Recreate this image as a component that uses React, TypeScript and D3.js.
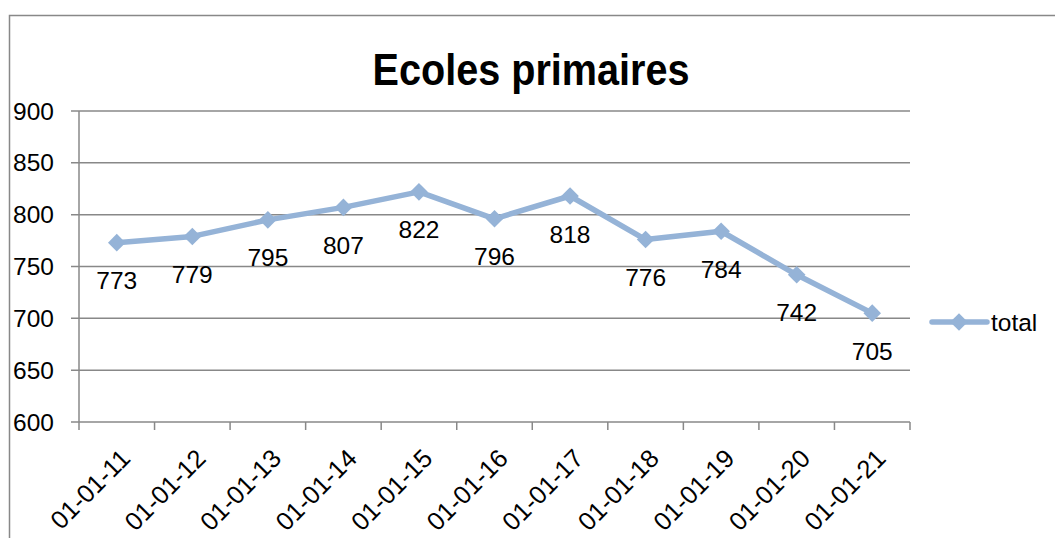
import React from 'react';
import * as d3 from 'd3';

// chart values
const categories = ['01-01-11', '01-01-12', '01-01-13', '01-01-14', '01-01-15', '01-01-16',
  '01-01-17', '01-01-18', '01-01-19', '01-01-20', '01-01-21'];
const totals = [773, 779, 795, 807, 822, 796, 818, 776, 784, 742, 705];
const yTicks = [600, 650, 700, 750, 800, 850, 900];
const seriesName = 'total';
const title = 'Ecoles primaires';

const W = 1055;
const H = 538;
const PLOT = { left: 79, right: 910, top: 111, bottom: 422 };

const LINE_COLOR = '#95b3d7';
const GRID_COLOR = '#888888';
const FONT = '"Liberation Sans", Arial, sans-serif';

export default function App() {
  const x = d3.scaleBand<string>()
    .domain(categories)
    .range([PLOT.left, PLOT.right])
    .padding(0);
  const y = d3.scaleLinear()
    .domain([600, 900])
    .range([PLOT.bottom, PLOT.top]);

  const cx = (c: string) => (x(c) as number) + x.bandwidth() / 2;

  const points = categories.map((c, i) => ({ c, v: totals[i] }));
  const linePath = d3.line<{ c: string; v: number }>()
    .x(d => cx(d.c))
    .y(d => y(d.v))(points) as string;

  const diamond = d3.symbol().type(d3.symbolSquare).size(155)() as string;

  // tick positions on the category axis sit at band edges
  const xTickPos = categories.map(c => x(c) as number).concat([PLOT.right]);

  return (
    <svg width={W} height={H} viewBox={`0 0 ${W} ${H}`}
      style={{ position: 'absolute', left: 0, top: 0, background: '#fff' }}
      xmlns="http://www.w3.org/2000/svg">
      {/* outer chart border (runs past the right/bottom edge) */}
      <rect x={9.5} y={15.5} width={W + 20} height={H + 20} fill="#fff" stroke={GRID_COLOR} strokeWidth={1.5} />

      <text x={531} y={85} textAnchor="middle" fontFamily={FONT} fontWeight="bold"
        fontSize={45} textLength={317} lengthAdjust="spacingAndGlyphs" fill="#000">{title}</text>

      {/* gridlines + y ticks */}
      {yTicks.map(t => (
        <g key={`y-${t}`}>
          <line x1={PLOT.left - 8} x2={PLOT.right} y1={y(t)} y2={y(t)} stroke={GRID_COLOR} strokeWidth={1.5} />
          <text x={54} y={y(t)} dy="0.35em" textAnchor="end" fontFamily={FONT} fontSize={24.5} fill="#000">{t}</text>
        </g>
      ))}
      {/* y axis */}
      <line x1={PLOT.left} x2={PLOT.left} y1={PLOT.top} y2={PLOT.bottom} stroke={GRID_COLOR} strokeWidth={1.5} />

      {/* x ticks */}
      {xTickPos.map((px, i) => (
        <line key={`xt-${i}`} x1={px} x2={px} y1={PLOT.bottom} y2={PLOT.bottom + 8} stroke={GRID_COLOR} strokeWidth={1.5} />
      ))}
      {categories.map(c => (
        <text key={`xl-${c}`} transform={`translate(${cx(c) + 15},${PLOT.bottom + 38}) rotate(-45)`}
          textAnchor="end" fontFamily={FONT} fontSize={25.5} fill="#000">{c}</text>
      ))}

      {/* series */}
      <path d={linePath} fill="none" stroke={LINE_COLOR} strokeWidth={5.5} strokeLinejoin="round" />
      {points.map(p => (
        <path key={`m-${p.c}`} d={diamond} fill={LINE_COLOR}
          transform={`translate(${cx(p.c)},${y(p.v)}) rotate(45)`} />
      ))}
      {points.map(p => (
        <text key={`lbl-${p.c}`} x={cx(p.c)} y={y(p.v) + 38} dy="0.35em" textAnchor="middle"
          fontFamily={FONT} fontSize={24.5} fill="#000">{p.v}</text>
      ))}

      {/* legend */}
      <line x1={932} x2={987} y1={322} y2={322} stroke={LINE_COLOR} strokeWidth={5.5} strokeLinecap="round" />
      <path d={diamond} fill={LINE_COLOR} transform="translate(959,322) rotate(45)" />
      <text x={991} y={322} dy="0.35em" fontFamily={FONT} fontSize={24.5} fill="#000">{seriesName}</text>
    </svg>
  );
}
